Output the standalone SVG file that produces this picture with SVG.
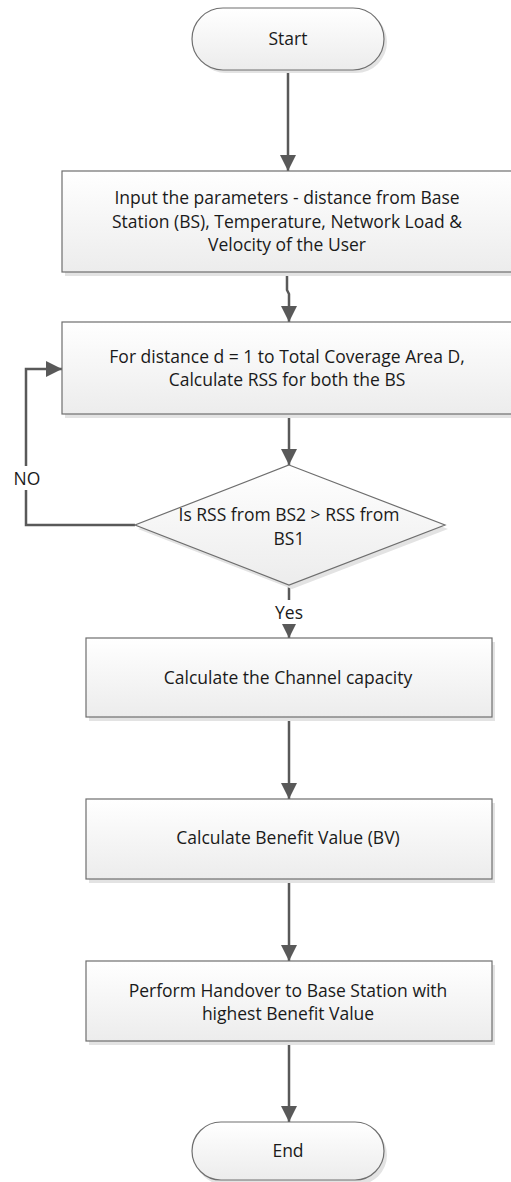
<svg xmlns="http://www.w3.org/2000/svg" width="511" height="1182" viewBox="0 0 511 1182">
<defs>
<linearGradient id="g" x1="0" y1="0" x2="0" y2="1">
<stop offset="0" stop-color="#ffffff"/>
<stop offset="1" stop-color="#ececec"/>
</linearGradient>
<marker id="arr" viewBox="0 0 10 10" refX="10" refY="5" markerWidth="6.4" markerHeight="6.4" markerUnits="strokeWidth" orient="auto">
<path d="M0,0 L10,5 L0,10 z" fill="#595959"/>
</marker>
<style>
.shape{fill:url(#g);stroke:#6e6e6e;stroke-width:1.2}
.shadow{fill:#e3e3e3}
.t{font-family:"Open Sans","Noto Sans",sans-serif;font-size:17.5px;fill:#1a1a1a;text-anchor:middle}
.c{fill:none;stroke:#595959;stroke-width:2.5;marker-end:url(#arr)}
.lbl{font-family:"Open Sans","Noto Sans",sans-serif;font-size:17.5px;fill:#1a1a1a;text-anchor:middle}
</style>
</defs>
<rect width="511" height="1182" fill="#ffffff"/>
<g id="connectors">
<path class="c" d="M288,70 V171"/>
<path class="c" d="M287,272 V290 L289,294 V322"/>
<path class="c" d="M289,414 V465"/>
<path class="c" d="M289,585 V638"/>
<path class="c" d="M289,717 V799"/>
<path class="c" d="M289,879 V961"/>
<path class="c" d="M289,1041 V1122"/>
<path class="c" d="M135,525 H26 V369 H62"/>
<rect x="10" y="466" width="34" height="24" fill="#ffffff"/>
<text class="lbl" x="27" y="485">NO</text>
<rect x="271" y="600" width="36" height="24" fill="#ffffff"/>
<text class="lbl" x="289" y="619">Yes</text>
</g>
<g id="start">
<rect class="shadow" x="195" y="11" width="192" height="62" rx="31"/>
<rect class="shape" x="192" y="8" width="192" height="62" rx="31"/>
<text class="t" x="288" y="45">Start</text>
</g>
<g id="input">
<rect class="shadow" x="65" y="175" width="450" height="101"/>
<rect class="shape" x="62" y="171" width="450" height="101"/>
<text class="t" x="287" y="204">Input the parameters - distance from Base</text>
<text class="t" x="287" y="227.5">Station (BS), Temperature,  Network Load &amp;</text>
<text class="t" x="287" y="251">Velocity of the User</text>
</g>
<g id="loop">
<rect class="shadow" x="65" y="326" width="450" height="92"/>
<rect class="shape" x="62" y="322" width="450" height="92"/>
<text class="t" x="287" y="362.5">For distance d = 1 to Total Coverage Area D,</text>
<text class="t" x="287" y="386">Calculate RSS for both the BS</text>
</g>
<g id="decision">
<polygon class="shadow" points="292,469 448,529 292,589 138,529"/>
<polygon class="shape" points="289,465 445,525 289,585 135,525"/>
<text class="t" x="289" y="521">Is RSS from BS2 &gt; RSS from</text>
<text class="t" x="289" y="544.5">BS1</text>
</g>
<g id="channel">
<rect class="shadow" x="89" y="642" width="406" height="79"/>
<rect class="shape" x="86" y="638" width="406" height="79"/>
<text class="t" x="288" y="684">Calculate the Channel capacity</text>
</g>
<g id="benefit">
<rect class="shadow" x="89" y="803" width="406" height="80"/>
<rect class="shape" x="86" y="799" width="406" height="80"/>
<text class="t" x="288" y="844">Calculate Benefit Value (BV)</text>
</g>
<g id="handover">
<rect class="shadow" x="89" y="965" width="406" height="80"/>
<rect class="shape" x="86" y="961" width="406" height="80"/>
<text class="t" x="288" y="996.5">Perform Handover to Base Station with</text>
<text class="t" x="288" y="1020">highest Benefit Value</text>
</g>
<g id="end">
<rect class="shadow" x="195" y="1125" width="192" height="60" rx="30"/>
<rect class="shape" x="192" y="1122" width="192" height="58" rx="29"/>
<text class="t" x="288" y="1157">End</text>
</g>
</svg>
